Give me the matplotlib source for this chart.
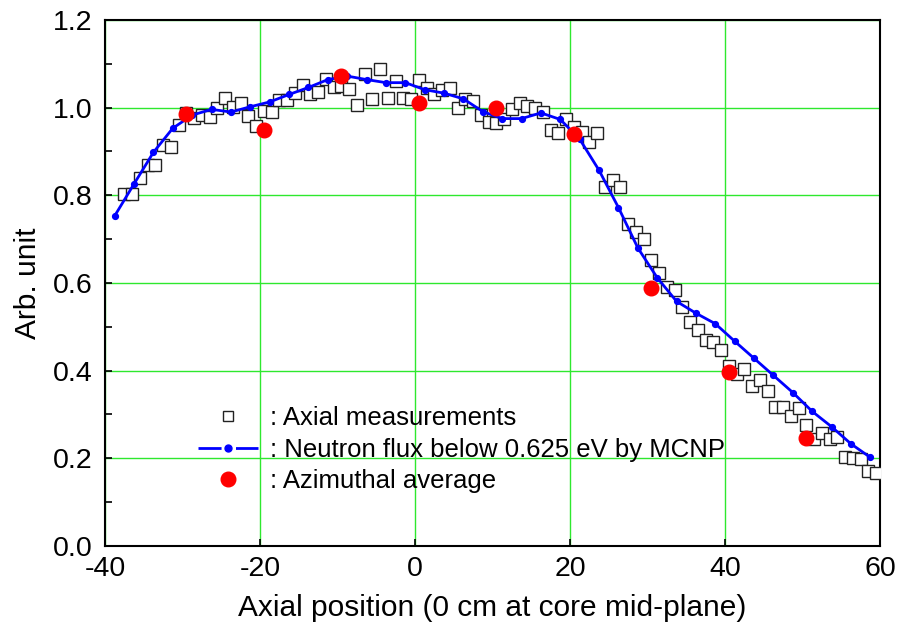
import matplotlib
matplotlib.use("Agg")
import matplotlib.pyplot as plt
import numpy as np
from matplotlib.lines import Line2D

plt.rcParams['font.family'] = ['Liberation Sans', 'DejaVu Sans']
plt.rcParams['axes.unicode_minus'] = False

# Axial measurements (open squares)
meas_x = [-37.5 + k for k in range(98)]
meas_y = [0.803, 0.802, 0.839, 0.869, 0.870, 0.914, 0.911, 0.961, 0.987, 0.976,
          0.984, 0.978, 1.000, 1.023, 1.002, 1.011, 0.981, 0.959, 0.993, 0.990,
          1.017, 1.017, 1.034, 1.051, 1.030, 1.035, 1.065, 1.048, 1.050, 1.042,
          1.006, 1.076, 1.019, 1.089, 1.023, 1.061, 1.023, 1.019, 1.062, 1.044,
          1.032, 1.041, 1.044, 0.999, 1.020, 1.015, 0.983, 0.968, 0.964, 0.975,
          0.997, 1.010, 1.003, 1.000, 0.989, 0.949, 0.943, 0.975, 0.955, 0.945,
          0.922, 0.943, 0.818, 0.836, 0.819, 0.734, 0.717, 0.701, 0.652, 0.622,
          0.591, 0.585, 0.546, 0.511, 0.493, 0.470, 0.466, 0.446, 0.410, 0.392,
          0.404, 0.366, 0.379, 0.353, 0.318, 0.318, 0.297, 0.315, 0.275, 0.243,
          0.257, 0.243, 0.249, 0.204, 0.200, 0.198, 0.172, 0.166]

# MCNP neutron flux below 0.625 eV
mcnp_x = [-38.75 + 2.5 * k for k in range(40)]
mcnp_y = [0.753, 0.826, 0.898, 0.953, 0.983, 0.996, 0.990, 1.002, 1.013, 1.030,
          1.046, 1.064, 1.072, 1.064, 1.057, 1.057, 1.041, 1.033, 1.020, 0.991,
          0.975, 0.975, 0.988, 0.973, 0.928, 0.857, 0.772, 0.680, 0.612, 0.558,
          0.531, 0.507, 0.467, 0.428, 0.389, 0.350, 0.307, 0.272, 0.233, 0.202]

# Azimuthal average (red dots)
azi_x = [-29.5, -19.5, -9.5, 0.5, 10.5, 20.5, 30.5, 40.5, 50.5]
azi_y = [0.986, 0.949, 1.072, 1.011, 0.999, 0.940, 0.588, 0.397, 0.246]

x_ticks = [-40, -20, 0, 20, 40, 60]
y_ticks = [0.0, 0.2, 0.4, 0.6, 0.8, 1.0, 1.2]

fig = plt.figure(figsize=(8.98, 6.28), dpi=100)
ax = fig.add_axes([0.1169, 0.1306, 0.8631, 0.8376])

ax.plot(meas_x, meas_y, linestyle='none', marker='s', markersize=8,
        markerfacecolor='white', markeredgecolor='#222222', markeredgewidth=1.0,
        zorder=3)
ax.plot(mcnp_x, mcnp_y, color='#0000ff', linewidth=2.0, marker='o',
        markersize=4.2, markerfacecolor='#0000ff', markeredgecolor='#0000ff',
        zorder=4)
ax.plot(azi_x, azi_y, linestyle='none', marker='o', markersize=10.5,
        markerfacecolor='#ff0000', markeredgecolor='#ff0000', zorder=5)

ax.set_xlim(-40, 60)
ax.set_ylim(0, 1.2)
ax.set_xticks(x_ticks)
ax.set_yticks(y_ticks)
ax.set_yticklabels([f"{v:.1f}" for v in y_ticks])
ax.set_yticks(np.arange(0.1, 1.2, 0.2), minor=True)
ax.grid(True, which='major', color='#2ee82e', linewidth=1.0)
ax.set_axisbelow(True)
ax.tick_params(axis='both', which='both', direction='in', length=5, width=1.2,
               labelsize=20.5, top=False, right=False)
ax.tick_params(axis='y', pad=9)
ax.tick_params(axis='x', pad=7)
for s in ax.spines.values():
    s.set_linewidth(1.5)
    s.set_color('black')

ax.set_xlabel('Axial position (0 cm at core mid-plane)', fontsize=21.5, labelpad=9)
ax.set_ylabel('Arb. unit', fontsize=21.5, labelpad=8)

h_sq = Line2D([], [], linestyle='none', marker='s', markersize=7,
              markerfacecolor='white', markeredgecolor='#222222', markeredgewidth=1.0)
h_ln = Line2D([], [], color='#0000ff', linewidth=2.0, marker='o', markersize=5,
              markerfacecolor='#0000ff', markeredgecolor='#0000ff',
              dashes=(8.3, 5.2))
h_rd = Line2D([], [], linestyle='none', marker='o', markersize=10.5,
              markerfacecolor='#ff0000', markeredgecolor='#ff0000')
leg = ax.legend([h_sq, h_ln, h_rd],
                [': Axial measurements', ': Neutron flux below 0.625 eV by MCNP',
                 ': Azimuthal average'],
                loc='upper left', bbox_to_anchor=(198 / 898, 1 - 406 / 628),
                bbox_transform=fig.transFigure, frameon=False, fontsize=18.5,
                numpoints=1, handlelength=2.35, handletextpad=0.45,
                labelspacing=0.30, borderpad=0, borderaxespad=0)

fig.savefig('out.png', dpi=100)
